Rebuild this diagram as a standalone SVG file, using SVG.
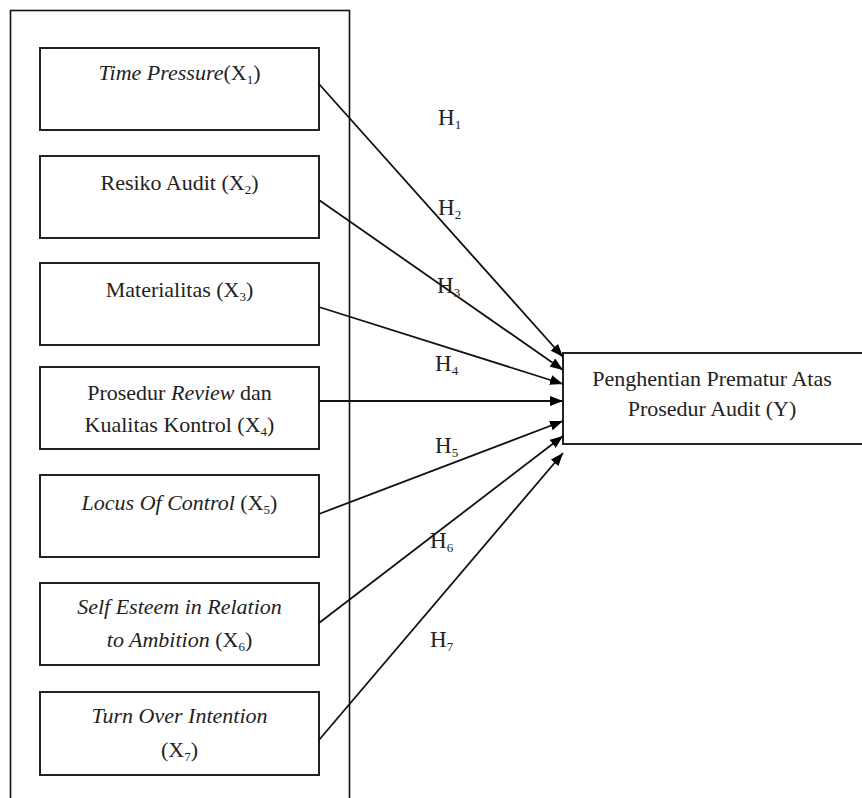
<svg xmlns="http://www.w3.org/2000/svg" width="862" height="798" viewBox="0 0 862 798">
<defs>
<style>
.box{fill:#fff;stroke:#222;stroke-width:2}
.frame{fill:none;stroke:#111;stroke-width:1.6}
.t{font-family:"Liberation Serif","Times New Roman",serif;font-size:22px;fill:#222;text-anchor:middle}
.i{font-style:italic}
.s{font-size:13px}
.h{font-family:"Liberation Serif","Times New Roman",serif;font-size:23px;fill:#222}
.c{fill:none;stroke:#111;stroke-width:1.8;marker-end:url(#ah)}
</style>
<marker id="ah" viewBox="0 0 13 10" refX="13" refY="5" markerWidth="13" markerHeight="10" markerUnits="userSpaceOnUse" orient="auto">
<path d="M0,0 L13,5 L0,10 Z" fill="#000"/>
</marker>
</defs>
<rect width="862" height="798" fill="#fff"/>
<rect id="frame" class="frame" x="10.5" y="10.5" width="339" height="800"/>

<g id="x1">
<rect class="box" x="40" y="48" width="279" height="82"/>
<text class="t" x="179.5" y="80"><tspan class="i">Time Pressure</tspan>(X<tspan class="s" dy="4">1</tspan><tspan dy="-4">)</tspan></text>
</g>
<g id="x2">
<rect class="box" x="40" y="156" width="279" height="82"/>
<text class="t" x="179.5" y="190">Resiko Audit (X<tspan class="s" dy="4">2</tspan><tspan dy="-4">)</tspan></text>
</g>
<g id="x3">
<rect class="box" x="40" y="263" width="279" height="82"/>
<text class="t" x="179.5" y="297">Materialitas (X<tspan class="s" dy="4">3</tspan><tspan dy="-4">)</tspan></text>
</g>
<g id="x4">
<rect class="box" x="40" y="367" width="279" height="82"/>
<text class="t" x="179.5" y="400">Prosedur <tspan class="i">Review</tspan> dan</text>
<text class="t" x="179.5" y="432">Kualitas Kontrol (X<tspan class="s" dy="4">4</tspan><tspan dy="-4">)</tspan></text>
</g>
<g id="x5">
<rect class="box" x="40" y="475" width="279" height="82"/>
<text class="t" x="179.5" y="510"><tspan class="i">Locus Of Control</tspan> (X<tspan class="s" dy="4">5</tspan><tspan dy="-4">)</tspan></text>
</g>
<g id="x6">
<rect class="box" x="40" y="583" width="279" height="82"/>
<text class="t i" x="179.5" y="614">Self Esteem in Relation</text>
<text class="t" x="179.5" y="647"><tspan class="i">to Ambition</tspan> (X<tspan class="s" dy="4">6</tspan><tspan dy="-4">)</tspan></text>
</g>
<g id="x7">
<rect class="box" x="40" y="692" width="279" height="83"/>
<text class="t i" x="179.5" y="723">Turn Over Intention</text>
<text class="t" x="179.5" y="757">(X<tspan class="s" dy="4">7</tspan><tspan dy="-4">)</tspan></text>
</g>
<g id="y">
<rect class="box" x="563" y="353" width="320" height="91"/>
<text class="t" x="712" y="386">Penghentian Prematur Atas</text>
<text class="t" x="712" y="416">Prosedur Audit (Y)</text>
</g>

<g id="connectors">
<path class="c" d="M319,84 L563,357"/>
<path class="c" d="M319,200 L563,370"/>
<path class="c" d="M319,307 L563,384"/>
<path class="c" d="M319,401 L563,401"/>
<path class="c" d="M319,514 L563,421"/>
<path class="c" d="M319,623 L563,436"/>
<path class="c" d="M319,740 L563,453"/>
</g>

<g id="labels">
<text class="h" x="438" y="125">H<tspan class="s" dy="4">1</tspan></text>
<text class="h" x="438" y="215">H<tspan class="s" dy="4">2</tspan></text>
<text class="h" x="437" y="293">H<tspan class="s" dy="4">3</tspan></text>
<text class="h" x="435" y="371">H<tspan class="s" dy="4">4</tspan></text>
<text class="h" x="435" y="453">H<tspan class="s" dy="4">5</tspan></text>
<text class="h" x="430" y="548">H<tspan class="s" dy="4">6</tspan></text>
<text class="h" x="430" y="647">H<tspan class="s" dy="4">7</tspan></text>
</g>
</svg>
